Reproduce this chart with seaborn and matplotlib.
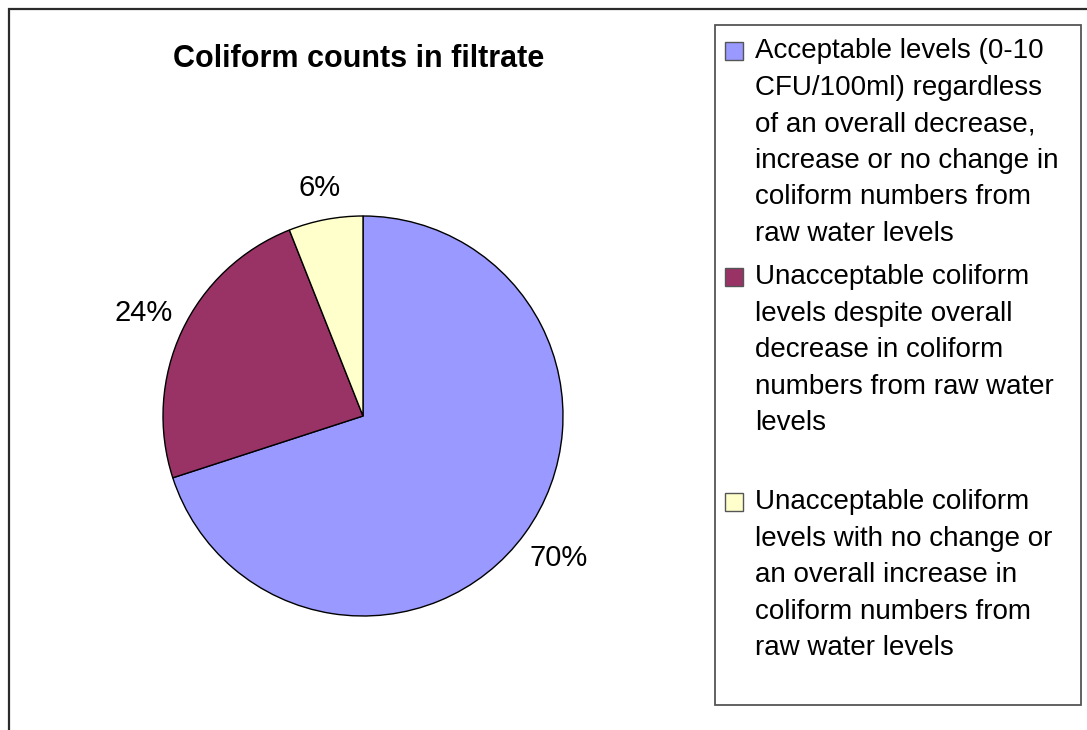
import matplotlib
matplotlib.use("Agg")
import numpy as np
import matplotlib.pyplot as plt
from matplotlib.patches import Rectangle
import seaborn as sns

# Data
categories = [
    "Acceptable levels (0-10\nCFU/100ml) regardless\nof an overall decrease,\nincrease or no change in\ncoliform numbers from\nraw water levels",
    "Unacceptable coliform\nlevels despite overall\ndecrease in coliform\nnumbers from raw water\nlevels",
    "Unacceptable coliform\nlevels with no change or\nan overall increase in\ncoliform numbers from\nraw water levels",
]
shares = [70, 24, 6]
title = "Coliform counts in filtrate"

sns.set_theme(style="white")
plt.rcParams["font.family"] = ["Liberation Sans", "DejaVu Sans"]
palette = sns.color_palette(["#9999FF", "#993366", "#FFFFCC"])

W, H = 1087, 730
fig = plt.figure(figsize=(W / 100, H / 100), dpi=100)
fig.patch.set_facecolor("white")


def fx(px):
    return px / W


def fy(py):
    return 1 - py / H


# outer chart frame (open at right and bottom)
fig.add_artist(Rectangle((fx(9), fy(760)), fx(1100), fy(9) - fy(760),
                         transform=fig.transFigure, fill=False,
                         edgecolor="#2b2b2b", linewidth=1.6))

# pie: centre (363, 416), radius 200 px
cx, cy, r = 363, 416, 200
lim = 1.3
half = r * lim
ax = fig.add_axes([fx(cx - half), fy(cy + half), fx(2 * half), (2 * half) / H])
wedges, texts, autotexts = ax.pie(
    shares, colors=palette, startangle=90, counterclock=False,
    autopct="%.0f%%", pctdistance=1.21,
    wedgeprops=dict(edgecolor="black", linewidth=1.0),
    textprops=dict(fontsize=21, color="black"),
)
# the small slice's label sits a little closer to the rim
small = wedges[2]
mid = np.deg2rad((small.theta1 + small.theta2) / 2)
autotexts[2].set_position((1.16 * np.cos(mid), 1.16 * np.sin(mid)))

ax.set_xlim(-lim, lim)
ax.set_ylim(-lim, lim)
ax.set_aspect("equal")
ax.axis("off")

fig.text(fx(359), fy(59), title, ha="center", va="center",
         fontsize=22, fontweight="bold", color="black")

# legend box
fig.add_artist(Rectangle((fx(715), fy(705)), fx(1081 - 715), fy(25) - fy(705),
                         transform=fig.transFigure, fill=False,
                         edgecolor="#555555", linewidth=1.3))
entry_tops = [38, 264, 489]
for label, color, top in zip(categories, palette, entry_tops):
    fig.add_artist(Rectangle((fx(725), fy(top + 22)), fx(18), 18 / H,
                             transform=fig.transFigure, facecolor=color,
                             edgecolor="#555555", linewidth=1.0))
    fig.text(fx(755), fy(top), label, ha="left", va="top", fontsize=20,
             color="black", linespacing=1.53)

fig.savefig("out.png", dpi=100, facecolor="white")
